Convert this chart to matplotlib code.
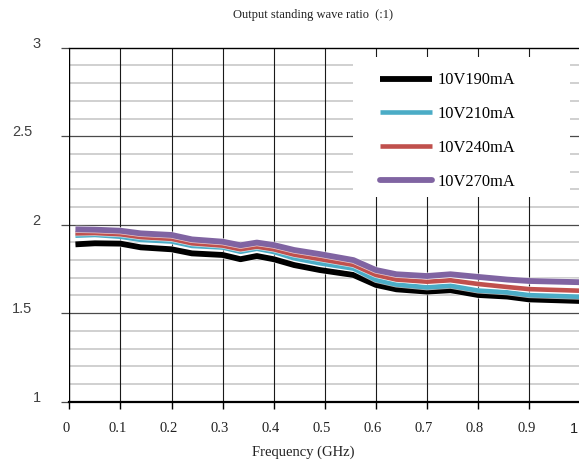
import matplotlib
matplotlib.use("Agg")
import matplotlib.pyplot as plt
import matplotlib.patches as mpatches
import matplotlib.patheffects as pe
from matplotlib.transforms import ScaledTranslation

freq = [0.012, 0.05, 0.1, 0.14, 0.2, 0.24, 0.3, 0.335, 0.367, 0.4, 0.44,
        0.49, 0.556, 0.6, 0.64, 0.7, 0.746, 0.8, 0.857, 0.9, 1.0]

vswr_190 = [1.889, 1.895, 1.893, 1.872, 1.861, 1.838, 1.829, 1.805, 1.823, 1.805, 1.772,
            1.744, 1.716, 1.660, 1.635, 1.622, 1.630, 1.603, 1.594, 1.578, 1.569]
vswr_210 = [1.938, 1.942, 1.932, 1.914, 1.905, 1.880, 1.871, 1.847, 1.864, 1.846, 1.810,
            1.782, 1.752, 1.688, 1.662, 1.646, 1.655, 1.628, 1.618, 1.602, 1.593]
vswr_240 = [1.951, 1.953, 1.946, 1.930, 1.920, 1.895, 1.882, 1.861, 1.876, 1.861, 1.831,
            1.806, 1.773, 1.716, 1.690, 1.678, 1.686, 1.665, 1.648, 1.636, 1.627]
vswr_270 = [1.974, 1.972, 1.966, 1.951, 1.942, 1.917, 1.904, 1.884, 1.899, 1.885, 1.857,
            1.834, 1.800, 1.744, 1.720, 1.710, 1.720, 1.705, 1.690, 1.682, 1.675]

names = ["10V190mA", "10V210mA", "10V240mA", "10V270mA"]
colors = ["#000000", "#4bacc6", "#c0504d", "#8064a2"]
widths = [4.2, 3.3, 3.3, 4.2]

xticks = [0, 0.1, 0.2, 0.3, 0.4, 0.5, 0.6, 0.7, 0.8, 0.9, 1.0]
xlabels = ["0", "0.1", "0.2", "0.3", "0.4", "0.5", "0.6", "0.7", "0.8", "0.9", "1"]
yticks = [1, 1.5, 2, 2.5, 3]
ylabels = ["1", "1.5", "2", "2.5", "3"]

serif = ["Liberation Serif", "DejaVu Serif"]
sans = ["Liberation Sans", "DejaVu Sans"]

fig = plt.figure(figsize=(5.79, 4.67), dpi=100)
ax = fig.add_axes([69.3 / 579, 65.3 / 467, 511 / 579, 354 / 467])
ax.set_xlim(0, 1)
ax.set_ylim(1, 3)

# grid: light minor rows, dark major rows, dark columns
for v in [1.1, 1.2, 1.3, 1.4, 1.6, 1.7, 1.8, 1.9, 2.1, 2.2, 2.3, 2.4, 2.6, 2.7, 2.8, 2.9]:
    ax.axhline(v, color="#c4c4c4", lw=1.1, zorder=1)
for v in [1.5, 2, 2.5]:
    ax.axhline(v, color="#4a4a4a", lw=0.9, zorder=1)
for v in xticks[1:-1]:
    ax.axvline(v, color="#1a1a1a", lw=0.8, zorder=1)

for s in ["right", "left"]:
    ax.spines[s].set_visible(False)
ax.axvline(0, color="#000000", lw=1.0, zorder=2)
ax.spines["top"].set_linewidth(1.0)
ax.spines["bottom"].set_linewidth(1.6)

# white box behind the legend
ax.add_patch(mpatches.Rectangle((0.555, 0.578), 0.425, 0.395, transform=ax.transAxes,
                                facecolor="white", edgecolor="none", zorder=3))

series = [vswr_190, vswr_210, vswr_240, vswr_270]
for vals, name, c, w in zip(series, names, colors, widths):
    ax.plot(freq, vals, color=c, lw=w, label=name, zorder=4, solid_capstyle="butt",
            solid_joinstyle="round",
            path_effects=[pe.Stroke(linewidth=w + 1.0, foreground="white", alpha=0.7), pe.Normal()])

ax.set_xticks(xticks)
ax.set_xticklabels(xlabels, family=serif, fontsize=10.5, color="#222222")
ax.tick_params(axis="x", direction="out", length=4.7, width=1.0, color="#000000", pad=10)
xlabs = ax.get_xticklabels()
for lab in xlabs[:-1]:
    lab.set_transform(lab.get_transform() + ScaledTranslation(-3 / 100, 0, fig.dpi_scale_trans))
xlabs[-1].set_family(sans)
xlabs[-1].set_transform(xlabs[-1].get_transform() + ScaledTranslation(-6 / 100, 0, fig.dpi_scale_trans))

ax.set_yticks(yticks)
ax.set_yticklabels(ylabels, family=sans, fontsize=10.5, color="#404040")
ax.tick_params(axis="y", direction="out", length=5.5, width=0.9, color="#4a4a4a", pad=21)
shift = ScaledTranslation(0, 4 / 72, fig.dpi_scale_trans)
for lab in ax.get_yticklabels():
    if "." not in lab.get_text():
        lab.set_horizontalalignment("left")
    lab.set_transform(lab.get_transform() + shift)

leg = ax.legend(loc="upper left", bbox_to_anchor=(0.608, 0.93), frameon=False,
                prop={"family": serif, "size": 11.8}, handlelength=3.2,
                handletextpad=0.3, labelspacing=1.08, borderpad=0, borderaxespad=0)
leg.set_zorder(5)
leg.get_lines()[3].set_solid_capstyle("round")

fig.text(313 / 579, 1 - 15 / 467, "Output standing wave ratio  (:1)", ha="center", va="center",
         family=serif, fontsize=9, color="#222222")
fig.text(303 / 579, 1 - 452 / 467, "Frequency (GHz)", ha="center", va="center",
         family=serif, fontsize=10.5, color="#222222")

fig.savefig("out.png", dpi=100)
